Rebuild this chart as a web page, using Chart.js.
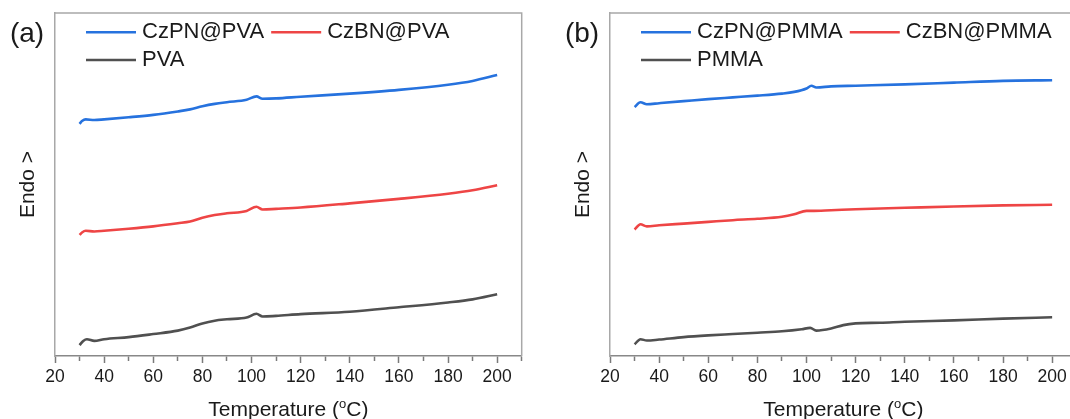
<!DOCTYPE html>
<html><head><meta charset="utf-8">
<script src="https://cdn.jsdelivr.net/npm/chart.js@4.4.1/dist/chart.umd.min.js"></script>
<style>
html,body{margin:0;padding:0;background:#fff;overflow:hidden;width:1070px;height:419px;}
#wa{position:absolute;left:0;top:0;width:535px;height:419px;}
#wb{position:absolute;left:555px;top:0;width:535px;height:419px;}
</style></head><body>
<div id="wa"><canvas id="ca" width="535" height="419"></canvas></div>
<div id="wb"><canvas id="cb" width="535" height="419"></canvas></div>
<script>
// ---- tick labels / axis ----
const xTickLabels = [20, 40, 60, 80, 100, 120, 140, 160, 180, 200];
const panelLabels = ['(a)', '(b)'];
const namesA = ['CzPN@PVA', 'CzBN@PVA', 'PVA'];
const namesB = ['CzPN@PMMA', 'CzBN@PMMA', 'PMMA'];
const colors = ['#2672de', '#ee4545', '#505050'];

// ---- panel (a) ----
const tA_czpn = [30, 31, 32.5, 36, 40, 50, 60, 70, 75, 80, 85, 90, 98, 102, 104.5, 110, 120, 140, 160, 180, 190, 200];
const vA_czpn = [67.7, 68.5, 69.0, 68.8, 69.0, 69.6, 70.3, 71.3, 71.9, 72.8, 73.5, 74.0, 74.7, 75.7, 75.0, 75.1, 75.6, 76.5, 77.6, 79.1, 80.2, 81.9];
const tA_czbn = [30, 31, 32.5, 36, 40, 50, 60, 70, 75, 80, 85, 90, 98, 102, 104.5, 110, 120, 140, 160, 180, 190, 200];
const vA_czbn = [35.3, 36.0, 36.5, 36.3, 36.5, 37.1, 37.8, 38.7, 39.2, 40.3, 41.1, 41.6, 42.3, 43.5, 42.7, 42.9, 43.3, 44.5, 45.8, 47.3, 48.3, 49.8];
const tA_pva = [30, 31.5, 33, 36, 40, 50, 60, 70, 75, 80, 85, 90, 98, 102, 104.5, 110, 120, 140, 160, 180, 190, 200];
const vA_pva = [3.2, 4.4, 4.9, 4.4, 4.9, 5.5, 6.4, 7.4, 8.3, 9.5, 10.3, 10.7, 11.2, 12.3, 11.5, 11.7, 12.2, 12.9, 14.2, 15.6, 16.5, 18.0];

// ---- panel (b) ----
const tB_czpn = [30, 32.4, 35, 40, 50, 60, 70, 80, 90, 95, 100, 102, 104, 110, 120, 140, 160, 180, 200];
const vB_czpn = [72.6, 74.0, 73.4, 73.7, 74.3, 74.9, 75.4, 75.9, 76.5, 77.0, 78.0, 78.8, 78.3, 78.6, 78.8, 79.2, 79.7, 80.2, 80.4];
const tB_czbn = [30, 32.4, 35, 40, 50, 60, 70, 80, 90, 95, 100, 102, 110, 120, 140, 160, 180, 200];
const vB_czbn = [36.9, 38.4, 37.8, 38.1, 38.6, 39.1, 39.6, 40.0, 40.6, 41.3, 42.3, 42.3, 42.5, 42.8, 43.2, 43.6, 43.9, 44.1];
const tB_pmma = [30, 32.4, 35, 40, 50, 60, 70, 80, 90, 98, 101.5, 104, 110, 115, 120, 130, 140, 160, 180, 200];
const vB_pmma = [3.4, 4.9, 4.5, 4.8, 5.5, 6.0, 6.4, 6.8, 7.2, 7.8, 8.2, 7.4, 8.0, 9.0, 9.5, 9.7, 10.0, 10.4, 10.9, 11.3];

const FONT = "'Liberation Sans', Arial, sans-serif";
const TXT = '#1a1a1a';

function pts(t, v) { return t.map((x, i) => ({x: x, y: v[i]})); }

function overlayPlugin(panelLabel) {
  return {
    id: 'overlay',
    afterDraw(chart) {
      const ctx = chart.ctx, ca = chart.chartArea;
      ctx.save();
      // top & right frame
      ctx.strokeStyle = '#a8a8a8'; ctx.lineWidth = 1.5;
      ctx.beginPath();
      ctx.moveTo(ca.left, ca.top); ctx.lineTo(ca.right, ca.top); ctx.lineTo(ca.right, ca.bottom);
      ctx.stroke();
      // panel label
      ctx.fillStyle = TXT;
      ctx.font = '28px ' + FONT;
      ctx.textAlign = 'center'; ctx.textBaseline = 'middle';
      ctx.fillText(panelLabel, 27, 34);
      // legend inside plot
      ctx.font = '22px ' + FONT;
      ctx.textAlign = 'left';
      const rows = [32.3, 60];
      let x = 86, row = 0;
      chart.data.datasets.forEach((ds, i) => {
        if (i === 2) { row = 1; x = 86; }
        const y = rows[row];
        ctx.strokeStyle = ds.borderColor; ctx.lineWidth = 2.5;
        ctx.beginPath(); ctx.moveTo(x, y); ctx.lineTo(x + 50, y); ctx.stroke();
        ctx.fillStyle = TXT;
        ctx.fillText(ds.label, x + 56, y);
        x += 56 + ctx.measureText(ds.label).width + 7;
      });
      // x axis title with superscript o
      const cx = (ca.left + ca.right) / 2, by = 416;
      ctx.font = '21px ' + FONT; ctx.textBaseline = 'alphabetic';
      const p1 = 'Temperature (', p3 = 'C)';
      const w1 = ctx.measureText(p1).width, w3 = ctx.measureText(p3).width;
      ctx.font = '13px ' + FONT;
      const w2 = ctx.measureText('o').width;
      const sx = cx - (w1 + w2 + w3) / 2;
      ctx.font = '21px ' + FONT;
      ctx.fillText(p1, sx, by);
      ctx.fillText(p3, sx + w1 + w2, by);
      ctx.font = '13px ' + FONT;
      ctx.fillText('o', sx + w1, by - 8);
      ctx.restore();
    }
  };
}

function makeChart(id, panelLabel, names, series) {
  return new Chart(document.getElementById(id), {
    type: 'line',
    data: {
      datasets: series.map((s, i) => ({
        label: names[i],
        data: pts(s[0], s[1]),
        borderColor: colors[i],
        borderWidth: 2.6,
        pointRadius: 0,
        fill: false,
        cubicInterpolationMode: 'monotone'
      }))
    },
    options: {
      responsive: false,
      animation: false,
      layout: {padding: {top: 13, right: 13.3, left: 0, bottom: 0}},
      plugins: {legend: {display: false}, tooltip: {enabled: false}},
      scales: {
        x: {
          type: 'linear', position: 'bottom', min: 20, max: 210,
          afterFit: s => { s.height = 63; },
          ticks: {
            stepSize: 10, autoSkip: false, maxRotation: 0, padding: 4,
            color: TXT, font: {family: FONT, size: 17.5},
            callback: v => xTickLabels.includes(v) ? String(v) : ''
          },
          grid: {
            display: true, drawOnChartArea: false, drawTicks: true, tickLength: 7,
            tickColor: '#7a7a7a', tickWidth: 1.5,
            tickBorderDash: c => (c.tick && xTickLabels.includes(c.tick.value)) ? [] : [4.5, 30]
          },
          border: {display: true, color: '#888', width: 1.5}
        },
        y: {
          type: 'linear', min: 0, max: 100,
          afterFit: s => { s.width = 55; },
          ticks: {display: false},
          grid: {display: false},
          border: {display: true, color: '#a8a8a8', width: 1.5},
          title: {display: true, text: 'Endo >', color: TXT,
                  font: {family: FONT, size: 21}, padding: {top: 16, bottom: 0}}
        }
      }
    },
    plugins: [overlayPlugin(panelLabel)]
  });
}

makeChart('ca', panelLabels[0], namesA, [[tA_czpn, vA_czpn], [tA_czbn, vA_czbn], [tA_pva, vA_pva]]);
makeChart('cb', panelLabels[1], namesB, [[tB_czpn, vB_czpn], [tB_czbn, vB_czbn], [tB_pmma, vB_pmma]]);
</script>
</body></html>
